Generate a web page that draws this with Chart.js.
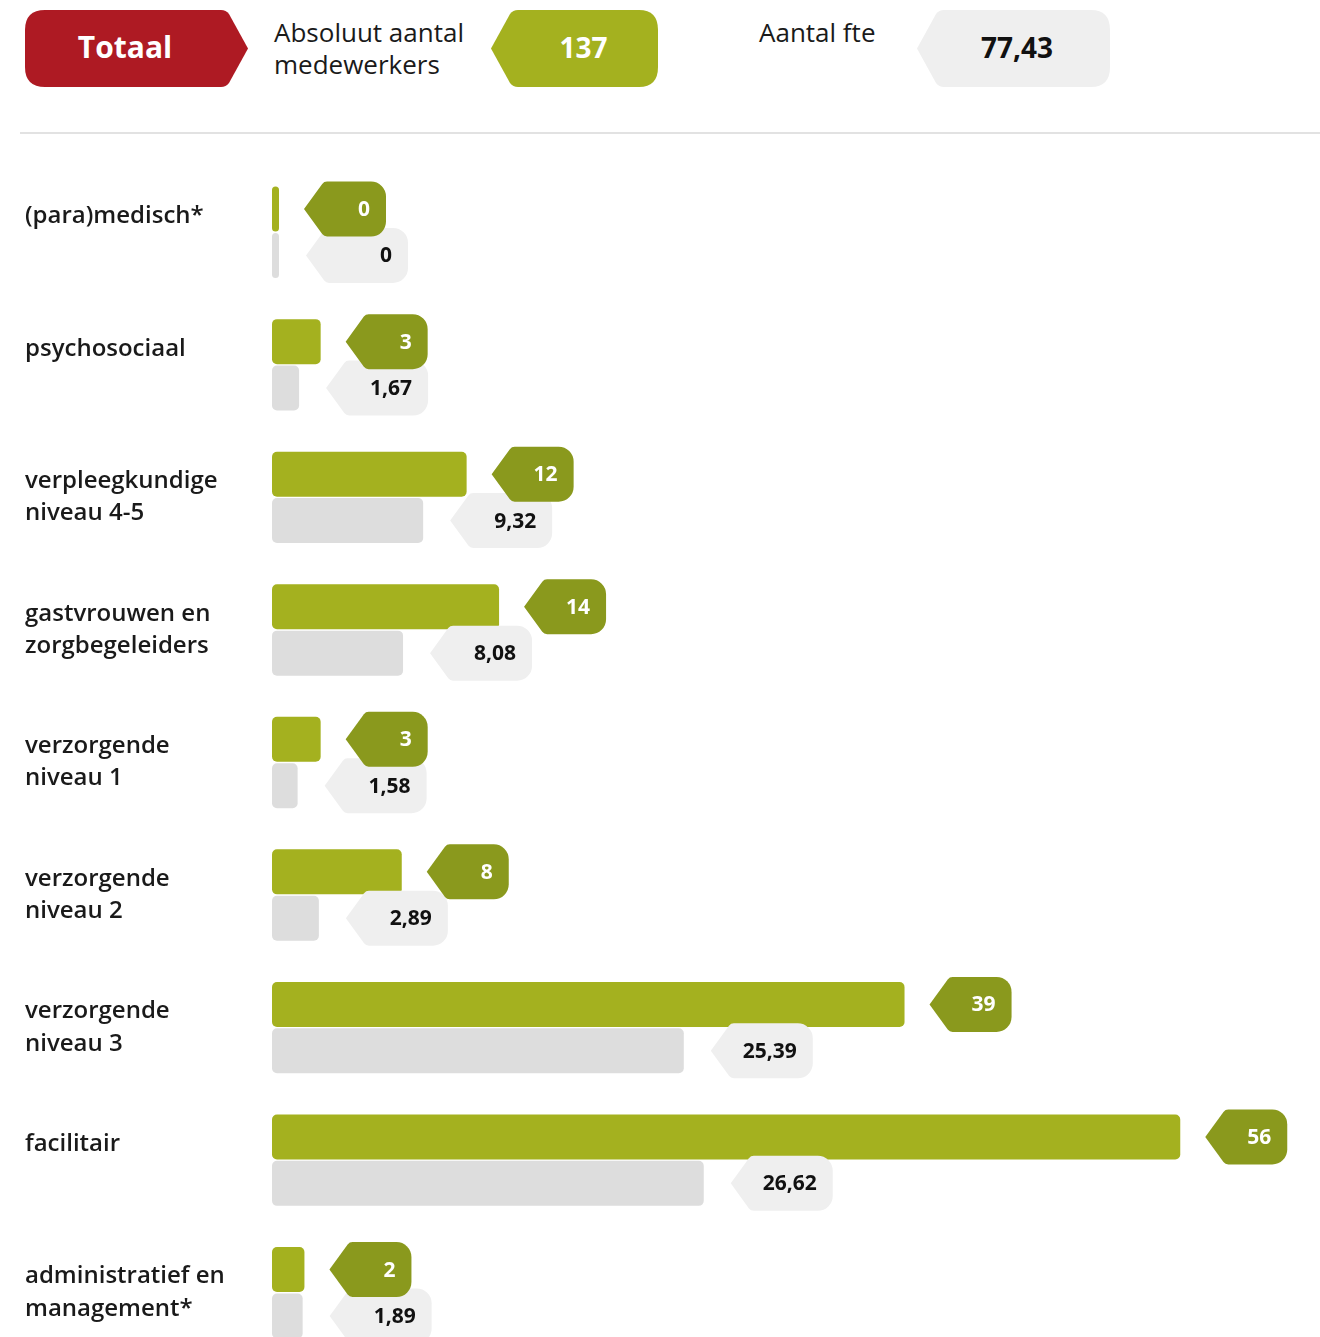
<!DOCTYPE html>
<html>
<head>
<meta charset="utf-8">
<script src="https://cdn.jsdelivr.net/npm/chart.js@4"></script>
<style>
  html, body { margin: 0; padding: 0; background: #fff; overflow: hidden; width: 1320px; height: 1337px; font-family: 'Open Sans', sans-serif; }
  #header { position: absolute; left: 0; top: 0; width: 1320px; height: 140px; }
  .shape { position: absolute; top: 10px; }
  .badge-text { position: absolute; top: 8px; height: 77px; display: flex; align-items: center; justify-content: center; font-weight: 700; }
  .caption { position: absolute; top: 16px; font-size: 26px; line-height: 32px; color: #1a1a1a; white-space: nowrap; }
  #rule { position: absolute; left: 20px; top: 132px; width: 1300px; height: 2px; background: #e2e2e2; }
  #chartBox { position: absolute; left: 0; top: 140px; width: 1320px; height: 1240px; }
</style>
</head>
<body>
<div id="header">
  <svg class="shape" style="left:25px" width="224" height="77" viewBox="0 0 224 77">
    <path d="M20,0 L196,0 Q201,0 204,4 L223,38.5 L204,73 Q201,77 196,77 L20,77 Q0,77 0,57 L0,20 Q0,0 20,0 Z" fill="#ae1a23"/>
  </svg>
  <div class="badge-text" style="left:25px;width:200px;color:#fff;font-size:30px;">Totaal</div>

  <div class="caption" style="left:274px">Absoluut aantal<br>medewerkers</div>

  <svg class="shape" style="left:491px" width="168" height="77" viewBox="0 0 168 77">
    <path d="M0,38.5 L19,4 Q22,0 27,0 L148,0 Q167,0 167,20 L167,57 Q167,77 148,77 L27,77 Q22,77 19,73 Z" fill="#a4b11f"/>
  </svg>
  <div class="badge-text" style="left:511px;width:145px;color:#fff;font-size:28px;" id="totalHead"></div>

  <div class="caption" style="left:759px">Aantal fte</div>

  <svg class="shape" style="left:917px" width="194" height="77" viewBox="0 0 194 77">
    <path d="M0,38.5 L19,4 Q22,0 27,0 L174,0 Q193,0 193,20 L193,57 Q193,77 174,77 L27,77 Q22,77 19,73 Z" fill="#efefef"/>
  </svg>
  <div class="badge-text" style="left:937px;width:160px;color:#111;font-size:28px;" id="totalFte"></div>

  <div id="rule"></div>
</div>
<div id="chartBox"><canvas id="chart"></canvas></div>

<script>
// Staff groups (second line left empty for one-line names so they sit beside the upper bar)
const categories = [
  ['(para)medisch*', ''],
  ['psychosociaal', ''],
  ['verpleegkundige', 'niveau 4-5'],
  ['gastvrouwen en', 'zorgbegeleiders'],
  ['verzorgende', 'niveau 1'],
  ['verzorgende', 'niveau 2'],
  ['verzorgende', 'niveau 3'],
  ['facilitair', ''],
  ['administratief en', 'management*']
];
// Number of employees per group
const headcount = [0, 3, 12, 14, 3, 8, 39, 56, 2];
// Full-time equivalents per group
const fte = [0, 1.67, 9.32, 8.08, 1.58, 2.89, 25.39, 26.62, 1.89];
// Totals shown in the header
const totalHeadcount = 137;
const totalFte = 77.43;

const GREEN = '#a4b11f';
const GREEN_DARK = '#8a991d';
const GREY = '#dddddd';
const GREY_LIGHT = '#efefef';

function fmt(v) { return String(v).replace('.', ','); }

document.getElementById('totalHead').textContent = fmt(totalHeadcount);
document.getElementById('totalFte').textContent = fmt(totalFte);

// Pointed value tag: arrow on the left, rounded corners on the right
function tagPath(ctx, tipX, cy, w, h) {
  const d = 20, rTip = 6, r = 15;
  const top = cy - h / 2, bottom = cy + h / 2, right = tipX + w;
  ctx.beginPath();
  ctx.moveTo(tipX, cy);
  ctx.arcTo(tipX + d, top, right, top, rTip);
  ctx.arcTo(right, top, right, bottom, r);
  ctx.arcTo(right, bottom, tipX + d, bottom, r);
  ctx.arcTo(tipX + d, bottom, tipX, cy, rTip);
  ctx.closePath();
}

const valueTags = {
  id: 'valueTags',
  afterDatasetsDraw(chart) {
    const ctx = chart.ctx;
    const styles = [
      { w: 82, gap: 25, fill: GREEN_DARK, text: '#ffffff' },
      { w: 102, gap: 27, fill: GREY_LIGHT, text: '#111111' }
    ];
    // fte tags first so the headcount tags overlap them
    [1, 0].forEach(di => {
      const meta = chart.getDatasetMeta(di);
      const data = chart.data.datasets[di].data;
      const st = styles[di];
      meta.data.forEach((bar, i) => {
        const tipX = bar.x + st.gap;
        const cy = bar.y;
        ctx.save();
        tagPath(ctx, tipX, cy, st.w, 55);
        ctx.fillStyle = st.fill;
        ctx.fill();
        ctx.fillStyle = st.text;
        ctx.font = '700 21px "Open Sans"';
        ctx.textAlign = 'right';
        ctx.textBaseline = 'middle';
        ctx.fillText(fmt(data[i]), tipX + st.w - 16, cy + 1);
        ctx.restore();
      });
    });
  }
};

function draw() {
  new Chart(document.getElementById('chart'), {
    type: 'bar',
    data: {
      labels: categories,
      datasets: [
        { label: 'Absoluut aantal medewerkers', data: headcount, backgroundColor: GREEN },
        { label: 'Aantal fte', data: fte, backgroundColor: GREY }
      ]
    },
    options: {
      indexAxis: 'y',
      responsive: true,
      maintainAspectRatio: false,
      animation: false,
      layout: { padding: { left: 25, right: 10, top: 26, bottom: 21 } },
      datasets: {
        bar: {
          borderRadius: 5,
          borderSkipped: false,
          minBarLength: 7,
          categoryPercentage: 0.7,
          barPercentage: 0.97
        }
      },
      plugins: { legend: { display: false }, tooltip: { enabled: false } },
      scales: {
        x: { min: 0, max: 64, display: false },
        y: {
          grid: { display: false },
          border: { display: false },
          ticks: {
            crossAlign: 'far',
            padding: 0,
            color: '#1a1a1a',
            font: { family: 'Open Sans', size: 24, weight: '600', lineHeight: 1.34 }
          },
          afterFit(scale) {
            scale.width = 247;
            scale.paddingTop = 0;
            scale.paddingBottom = 0;
          }
        }
      }
    },
    plugins: [valueTags]
  });
}

if (document.fonts && document.fonts.load) {
  Promise.all([
    document.fonts.load('600 24px "Open Sans"'),
    document.fonts.load('700 21px "Open Sans"')
  ]).then(draw, draw);
} else {
  draw();
}
</script>
</body>
</html>
